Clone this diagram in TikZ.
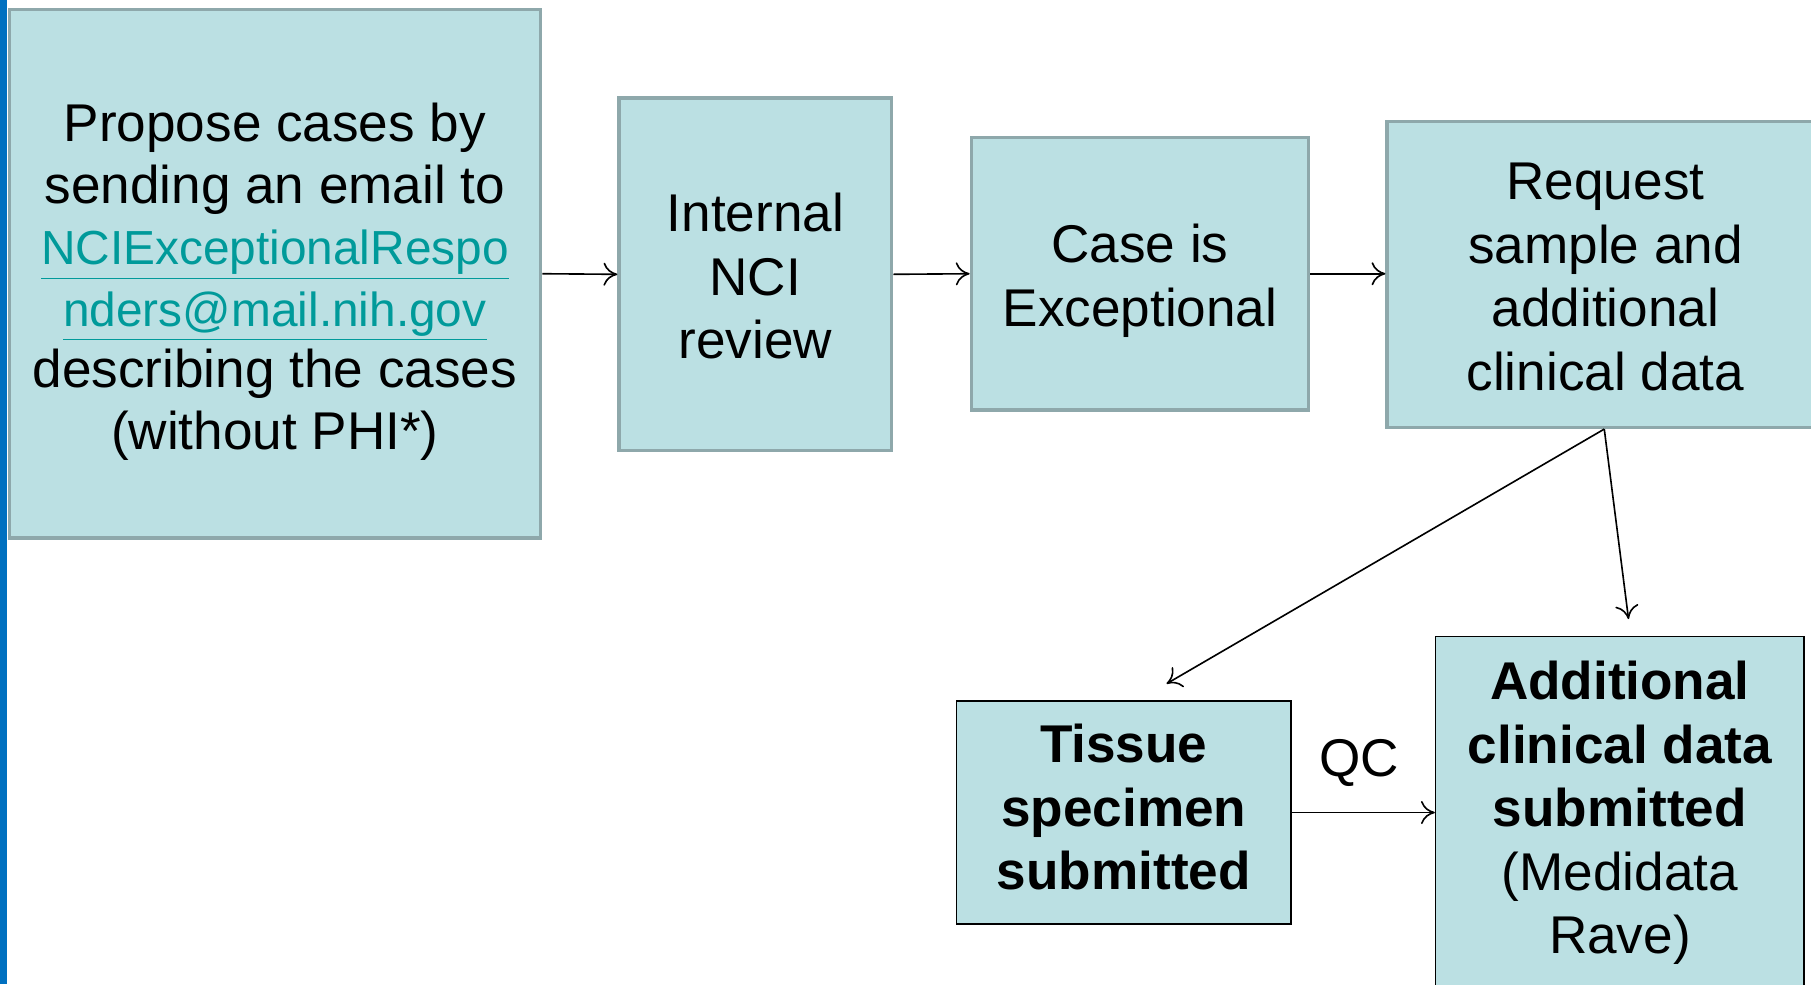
\documentclass[tikz,border=0pt]{standalone}
\usepackage{fontspec}
\setmainfont{Liberation Sans}
\usetikzlibrary{arrows.meta}
\definecolor{boxfill}{HTML}{BBE0E3}
\definecolor{boxline}{HTML}{8EA8AB}
\definecolor{barblue}{HTML}{0070C0}
\definecolor{linkteal}{HTML}{009A9A}
\newcommand{\linktext}[1]{{\fontsize{20.7}{26.5}\selectfont\color{linkteal}\underline{#1}}}
\begin{document}
\begin{tikzpicture}[x=0.5pt,y=-0.5pt,
  topbox/.style={draw=boxline,line width=1.5pt,fill=boxfill,inner sep=0pt},
  botbox/.style={draw=black,line width=0.7pt,fill=boxfill,inner sep=0pt},
  toptext/.style={align=center,inner sep=0pt,font=\fontsize{23}{27.5}\selectfont},
  bottext/.style={align=center,inner sep=0pt,font=\fontsize{23}{27.5}\selectfont\bfseries},
  conn/.style={draw=black,line width=0.7pt,-{To[length=6pt,width=10pt]}}]
\useasboundingbox (0,0) rectangle (1568,852);
\clip (0,0) rectangle (1568,852);
\fill[white] (0,0) rectangle (1568,852);
\fill[barblue] (0,0) rectangle (6,852);
% boxes
\node[topbox,minimum width=230pt,minimum height=229pt] (b1) at (238,237) {};
\node[topbox,minimum width=118pt,minimum height=152.5pt] (b2) at (654,237.5) {};
\node[topbox,minimum width=146pt,minimum height=118pt] (b3) at (987,237) {};
\node[topbox,minimum width=188pt,minimum height=132.5pt] (b4) at (1389,237.5) {};
\node[botbox,minimum width=145pt,minimum height=96.5pt] (b5) at (973,703.5) {};
\node[botbox,minimum width=159.5pt,minimum height=154.5pt] (b6) at (1402.5,705.5) {};
% texts
\node[toptext,font=\fontsize{23}{26.6}\selectfont] (t1) at (238,244)
  {Propose cases by\\sending an email to\\\linktext{NCIExceptionalRespo}\\\linktext{nders@mail.nih.gov}\\describing the cases\\(without PHI*)};
\node[toptext] (t2) at (654,239) {Internal\\NCI\\review};
\node[toptext] (t3) at (987,243) {Case is\\Exceptional};
\node[toptext] (t4) at (1390,240) {Request\\sample and\\additional\\clinical data};
\node[bottext] (t5) at (973,699) {Tissue\\specimen\\submitted};
\node[bottext] (t6) at (1402.5,704) {Additional\\clinical data\\submitted\\{\mdseries(Medidata}\\{\mdseries Rave)}};
% connectors
\coordinate (tend) at (1010,592);
\coordinate (aend) at (1410,536);
\draw[conn] (b1.east) -- (b2.west);
\draw[conn] (b2.east) -- (b3.west);
\draw[conn] (b3.east) -- (b3.east -| b4.west);
\draw[conn] (b4.south) -- (tend);
\draw[conn] (b4.south) -- (aend);
\draw[conn] (b5.east) -- (b5.east -| b6.west);
\node[font=\fontsize{23}{26.5}\selectfont] (qc) at (1177,661) {QC};
\end{tikzpicture}
\end{document}
